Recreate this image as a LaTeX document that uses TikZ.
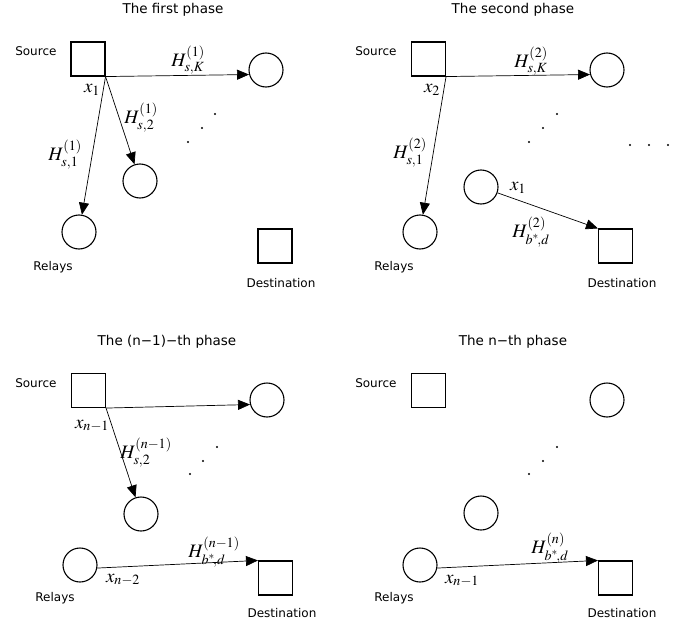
\documentclass[tikz,border=0pt]{standalone}
\usepackage{mathptmx}
\usepackage{fontspec}
\newfontfamily\lblfont{DejaVu Sans}
\usetikzlibrary{arrows.meta}
\newcommand{\bsd}{\raisebox{-3.5pt}{$\scriptstyle b^{*}\!,d$}}
\begin{document}
\begin{tikzpicture}[x=1pt,y=-1pt,
 sq/.style={draw,line width=1.1pt,minimum size=34pt,inner sep=0pt},
 rc/.style={draw,circle,line width=1.1pt,minimum size=34pt,inner sep=0pt},
 lbl/.style={font=\lblfont\fontsize{12}{14}\selectfont},
 ttl/.style={font=\lblfont\fontsize{13.5}{16}\selectfont},
 ml/.style={font=\fontsize{19}{22}\selectfont,inner sep=0pt},
 arr/.style={line width=0.7pt,-{Triangle[length=12pt,width=10pt]}},
 pdot/.style={circle,fill,inner sep=0pt,minimum size=2.4pt}]
\useasboundingbox[fill=white] (0,0) rectangle (688,626);

% ---------- Panel 1 ----------
\node[ttl] (t1) at (173,10) {The first phase};
\node[sq] (s1) at (88,59) {};
\node[lbl,anchor=east] (sl1) at (60,51) {Source};
\node[rc] (k1) at (266,70) {};
\node[rc] (a1) at (79,232) {};
\node[rc] (b1) at (140,181) {};
\node[sq] (d1) at (275,246) {};
\node[lbl] (rl1) at (53,267) {Relays};
\node[lbl] (dl1) at (281,283) {Destination};
\draw[arr] (s1.south east) -- (k1.195);
\draw[arr] (s1.south east) -- (a1);
\draw[arr] (s1.south east) -- (b1);
\node[ml] (h1k) at (188,60) {$H^{(1)}_{s,K}$};
\node[ml] (h12) at (141,118) {$H^{(1)}_{s,2}$};
\node[ml] (h11) at (65,155) {$H^{(1)}_{s,1}$};
\node[ml] (x1a) at (92,90) {$x_1$};
\node[pdot] (p11) at (215,114) {};
\node[pdot] (p12) at (202,128) {};
\node[pdot] (p13) at (188,142) {};

% ---------- Panel 2 ----------
\node[ttl] (t2) at (513,10) {The second phase};
\node[sq] (s2) at (428.5,59) {};
\node[lbl,anchor=east] (sl2) at (400,51) {Source};
\node[rc] (k2) at (607,70) {};
\node[rc] (a2) at (420,232) {};
\node[rc] (bs2) at (481,187) {};
\node[sq] (d2) at (615.5,246) {};
\node[lbl] (rl2) at (394,267) {Relays};
\node[lbl] (dl2) at (622,283) {Destination};
\draw[arr] (s2.south east) -- (k2.195);
\draw[arr] (s2.south east) -- (a2);
\draw[arr] (bs2) -- (d2.north west);
\node[ml] (h2k) at (531,61) {$H^{(2)}_{s,K}$};
\node[ml] (x2a) at (432,90) {$x_2$};
\node[ml] (h21) at (410,153) {$H^{(2)}_{s,1}$};
\node[ml] (x2b) at (518,188) {$x_1$};
\node[ml] (h2d) at (531,232) {$H^{(2)}_{\bsd}$};
\node[pdot] (p21) at (557,114) {};
\node[pdot] (p22) at (543,128) {};
\node[pdot] (p23) at (529,142) {};
\node[pdot] (q21) at (630,145) {};
\node[pdot] (q22) at (649,145) {};
\node[pdot] (q23) at (668,145) {};

% ---------- Panel 3 ----------
\node[ttl] (t3) at (167,342) {The (n−1)−th phase};
\node[sq] (s3) at (88.5,390.5) {};
\node[lbl,anchor=east] (sl3) at (60,383) {Source};
\node[rc] (k3) at (267,400) {};
\node[rc] (b3) at (141,514) {};
\node[rc] (r3) at (80,565) {};
\node[sq] (d3) at (275.5,578) {};
\node[lbl] (rl3) at (55,598) {Relays};
\node[lbl] (dl3) at (282,613) {Destination};
\draw[arr] (s3.south east) -- (k3.195);
\draw[arr] (s3.south east) -- (b3);
\draw[arr] (r3.350) -- (d3.north west);
\node[ml] (x3a) at (92,426) {$x_{n-1}$};
\node[ml] (h32) at (146,453) {$H^{(n-1)}_{s,2}$};
\node[ml] (h3d) at (214,552) {$H^{(n-1)}_{\bsd}$};
\node[ml] (x3b) at (123,580) {$x_{n-2}$};
\node[pdot] (p31) at (217,447) {};
\node[pdot] (p32) at (203,461) {};
\node[pdot] (p33) at (190,474) {};

% ---------- Panel 4 ----------
\node[ttl] (t4) at (513,342) {The n−th phase};
\node[sq] (s4) at (428.5,390.5) {};
\node[lbl,anchor=east] (sl4) at (400,383) {Source};
\node[rc] (k4) at (607,400) {};
\node[rc] (b4) at (481,513) {};
\node[rc] (r4) at (420,565) {};
\node[sq] (d4) at (615.5,578) {};
\node[lbl] (rl4) at (394,598) {Relays};
\node[lbl] (dl4) at (622,613) {Destination};
\draw[arr] (r4.350) -- (d4.north west);
\node[ml] (h4d) at (550,548) {$H^{(n)}_{\bsd}$};
\node[ml] (x4a) at (462,581) {$x_{n-1}$};
\node[pdot] (p41) at (557,447) {};
\node[pdot] (p42) at (543,461) {};
\node[pdot] (p43) at (529,474) {};
\end{tikzpicture}
\end{document}
